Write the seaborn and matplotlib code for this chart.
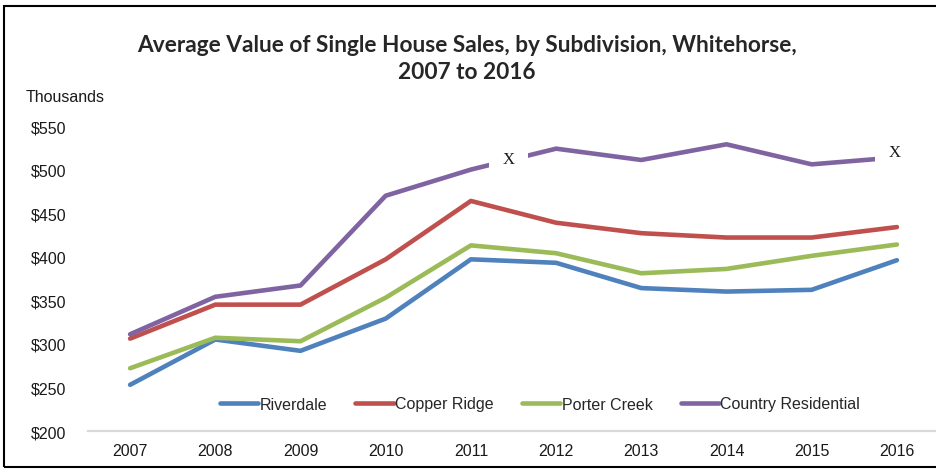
"""Average value of single house sales by subdivision, Whitehorse 2007-2016."""

import matplotlib

matplotlib.use("Agg")
import matplotlib.pyplot as plt
import pandas as pd
import seaborn as sns
from matplotlib.patches import Rectangle

YEARS = ["2007", "2008", "2009", "2010", "2011", "2012", "2013", "2014", "2015", "2016"]
SERIES = ["Riverdale", "Copper Ridge", "Porter Creek", "Country Residential"]

RIVERDALE = [253, 305, 292, 329, 397, 393, 364, 360, 362, 396]
COPPER_RIDGE = [306, 345, 345, 397, 464, 439, 427, 422, 422, 434]
PORTER_CREEK = [272, 307, 303, 353, 413, 404, 381, 386, 401, 414]
COUNTRY_RESIDENTIAL = [311, 354, 367, 470, 500, 524, 511, 529, 506, 514]

Y_TICKS = [200, 250, 300, 350, 400, 450, 500, 550]
COLORS = ["#4F81BD", "#C0504D", "#9BBB59", "#8064A2"]
FONT_SIZE = 11.5

sns.set_style("white")
plt.rcParams["font.family"] = ["Liberation Sans", "DejaVu Sans"]

df = pd.DataFrame(
    {
        "year": YEARS * 4,
        "value": RIVERDALE + COPPER_RIDGE + PORTER_CREEK + COUNTRY_RESIDENTIAL,
        "area": [s for s in SERIES for _ in YEARS],
    }
)
df["pos"] = df["year"].map({y: i for i, y in enumerate(YEARS)})

fig = plt.figure(figsize=(9.36, 4.77), dpi=100)
ax = fig.add_axes([87.5 / 936, 1 - 432 / 477, 852 / 936, 305 / 477])

sns.lineplot(
    data=df,
    x="pos",
    y="value",
    hue="area",
    hue_order=SERIES,
    palette=COLORS,
    linewidth=3.3,
    legend=False,
    ax=ax,
)
for line in ax.lines:
    line.set_solid_capstyle("round")

ax.set_xlim(-0.5, len(YEARS) - 0.5)
ax.set_ylim(200, 550)
ax.set_xticks(range(len(YEARS)))
ax.set_xticklabels(YEARS)
ax.set_yticks(Y_TICKS)
ax.set_yticklabels([f"${v}" for v in Y_TICKS])
ax.tick_params(axis="both", length=0, labelsize=FONT_SIZE, colors="#1a1a1a")
ax.tick_params(axis="x", pad=9)
ax.tick_params(axis="y", pad=15)
ax.set_xlabel("")
ax.set_ylabel("")
for side in ["top", "right", "left"]:
    ax.spines[side].set_visible(False)
ax.spines["bottom"].set_color("#D9D9D9")
ax.spines["bottom"].set_linewidth(1.6)

# "x" flags on the Country Residential series
for xpos, yval in [(4.44, 512), (8.97, 520)]:
    ax.text(
        xpos,
        yval,
        "X",
        family="Liberation Serif",
        fontsize=12,
        ha="center",
        va="center",
        color="#1a1a1a",
        bbox=dict(facecolor="white", edgecolor="none", pad=10),
        clip_on=False,
    )

ax.legend(
    handles=ax.lines[:4],
    labels=SERIES,
    loc="center",
    bbox_to_anchor=(540 / 936, 1 - 405 / 477),
    bbox_transform=fig.transFigure,
    ncol=4,
    frameon=False,
    fontsize=FONT_SIZE,
    handlelength=2.4,
    handletextpad=0.1,
    columnspacing=1.75,
)

fig.text(
    467 / 936,
    1 - 59 / 477,
    "Average Value of Single House Sales, by Subdivision, Whitehorse,\n2007 to 2016",
    ha="center",
    va="center",
    family="Lato",
    fontweight="bold",
    fontsize=16.3,
    linespacing=1.35,
    color="#262626",
)
fig.text(26 / 936, 1 - 97 / 477, "Thousands", ha="left", va="center", fontsize=FONT_SIZE, color="#1a1a1a")

fig.patches.append(
    Rectangle(
        (4 / 936, 9 / 477),
        1.0,
        1 - 16 / 477,
        transform=fig.transFigure,
        fill=False,
        edgecolor="black",
        linewidth=1.5,
    )
)

fig.savefig("out.png", dpi=100)
